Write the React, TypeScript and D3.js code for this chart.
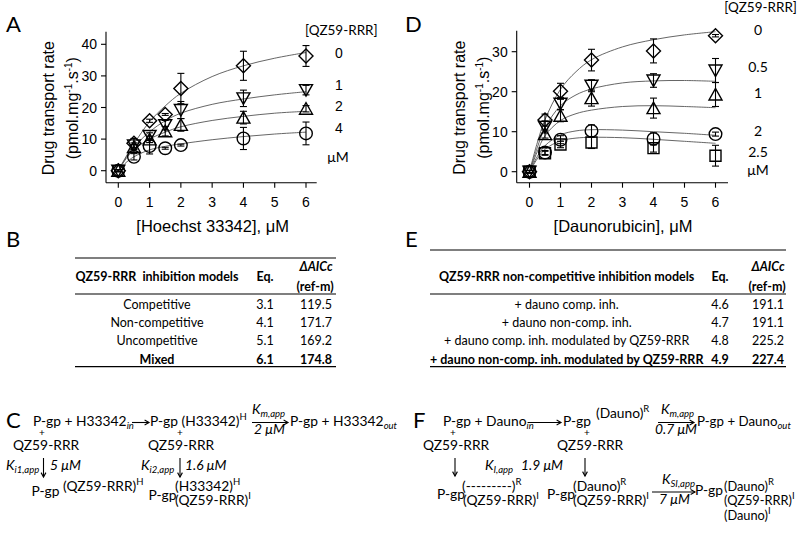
import React from "react";
import * as d3 from "d3";

// ---- panel A: Hoechst 33342 transport ----
const hoechstConc = [0, 0.5, 1, 1.5, 2, 4, 6];
const hoechstRate0 = [0, 8.7, 15.8, 17.8, 26, 33.2, 36.3];
const hoechstErr0 = [0.3, 1.5, 0.5, 0.3, 4.8, 4.6, 3.3];
const hoechstRate1 = [0, 8, 11, 14.4, 19.2, 22.9, 25.5];
const hoechstErr1 = [0.3, 0.8, 1, 1.5, 2.7, 2.6, 1.5];
const hoechstRate2 = [0, 7.5, 9.9, 12.5, 14.5, 16.8, 19.6];
const hoechstErr2 = [0.3, 0.8, 1, 1.5, 2, 2, 1];
const hoechstRate4 = [0, 4.4, 7.8, 7.1, 8.1, 10.2, 11.8];
const hoechstErr4 = [0.3, 1, 2.5, 0.3, 0.3, 3.5, 3.6];

// fitted curves at fitX
const fitX = [0, 0.25, 0.5, 1, 1.5, 2, 3, 4, 5, 6];
const hoechstFit0 = [0, 4.5, 8.5, 15.5, 20.5, 24.5, 29.8, 33.2, 35.6, 37.4];
const hoechstFit1 = [0, 4.2, 7.5, 12.3, 15.8, 18.2, 21, 22.7, 24, 25];
const hoechstFit2 = [0, 3.8, 6.6, 10, 12.2, 13.9, 15.9, 17.2, 18.2, 18.8];
const hoechstFit4 = [0, 2.6, 4.4, 6.6, 7.7, 8.5, 9.8, 10.8, 11.6, 12.2];
const hoechstLevels = ["0", "1", "2", "4"];

// ---- panel D: daunorubicin transport ----
const daunoConc = [0, 0.5, 1, 2, 4, 6];
const daunoRate0 = [0, 12.9, 20.1, 27.9, 30.2, 34];
const daunoErr0 = [0.3, 1.5, 2, 2.7, 3, 0.3];
const daunoRate05 = [0, 11.2, 17, 21.5, 22.8, 25.3];
const daunoErr05 = [0.3, 1.5, 1.5, 1.5, 1.7, 3];
const daunoRate1 = [0, 9.4, 14, 18.4, 15.9, 19.3];
const daunoErr1 = [0.3, 1, 1.5, 2, 2.5, 3];
const daunoRate2 = [0, 4.8, 8, 10.2, 8.2, 9.4];
const daunoErr2 = [0.3, 0.5, 1, 1.5, 1.5, 0.5];
const daunoRate25 = [0, 4.6, 6.8, 7.3, 5.9, 4];
const daunoErr25 = [0.3, 0.5, 0.8, 1.5, 1, 2.6];
const daunoFit0 = [0, 7.2, 13, 20.6, 25, 28, 31.2, 33, 34.2, 35];
const daunoFit05 = [0, 6, 11, 16.5, 19.2, 20.7, 22.2, 22.7, 22.8, 22.6];
const daunoFit1 = [0, 5, 9, 12.8, 14.5, 15.4, 16.3, 16.5, 16.3, 16];
const daunoFit2 = [0, 3.8, 6.5, 9.2, 10.2, 10.5, 10.4, 10, 9.6, 9.1];
const daunoFit25 = [0, 3.2, 5.6, 7.7, 8.4, 8.6, 8.5, 8.1, 7.6, 7.1];
const daunoLevels = ["0", "0.5", "1", "2", "2.5"];

const xTicks = [0, 1, 2, 3, 4, 5, 6];
const yTicksA = [0, 10, 20, 30, 40];
const yTicksD = [0, 10, 20, 30];

// ---- tables ----
const tableBModels = ["Competitive", "Non-competitive", "Uncompetitive", "Mixed"];
const tableBEq = ["3.1", "4.1", "5.1", "6.1"];
const tableBAicc = ["119.5", "171.7", "169.2", "174.8"];
const tableEModels = [
  "+ dauno comp. inh.",
  "+ dauno non-comp. inh.",
  "+ dauno comp. inh. modulated by QZ59-RRR",
  "+ dauno non-comp. inh. modulated by QZ59-RRR",
];
const tableEEq = ["4.6", "4.7", "4.8", "4.9"];
const tableEAicc = ["191.1", "191.1", "225.2", "227.4"];

const ARIAL = "'Liberation Sans', Arial, sans-serif";
const CAL = "Lato, 'Open Sans', sans-serif";

function Marker({ shape, cx, cy }) {
  const st = { fill: "none", stroke: "#000", strokeWidth: 1.4 };
  if (shape === "circle") return <circle cx={cx} cy={cy} r={6.3} {...st} />;
  let d = "";
  if (shape === "diamond") d = "M0,-7L7,0L0,7L-7,0Z";
  if (shape === "down") d = "M-6.5,-5.5L6.5,-5.5L0,6Z";
  if (shape === "up") d = "M-6.5,5.5L6.5,5.5L0,-6Z";
  if (shape === "square") d = "M-5.5,-5.5h11v11h-11Z";
  return <path d={d} transform={`translate(${cx},${cy})`} {...st} />;
}

function Kinetics({ lay, conc, series, yTicks, xLabel }) {
  const x = d3.scaleLinear().domain([0, 6]).range([lay.x0, lay.x6]);
  const y = d3.scaleLinear().domain([0, lay.yMax]).range([lay.y0, lay.yMaxPx]);
  const line = d3
    .line<number>()
    .x((_, i) => x(fitX[i]))
    .y((d) => y(d))
    .curve(d3.curveCatmullRom.alpha(0.5));
  const yMid = (lay.top + lay.bottom) / 2 + 1;
  return (
    <g>
      {series.map((s, k) => (
        <path key={"f" + k} d={line(s.fit)} fill="none" stroke="#555" strokeWidth={0.9} />
      ))}
      {series.map((s, k) =>
        s.rate.map((v, i) => {
          const cx = x(conc[i]);
          const y1 = y(v - s.err[i]);
          const y2 = y(v + s.err[i]);
          return (
            <g key={k + "-" + i}>
              <g stroke="#000" strokeWidth={1.1}>
                <line x1={cx} x2={cx} y1={y1} y2={y2} />
                <line x1={cx - 3.5} x2={cx + 3.5} y1={y1} y2={y1} />
                <line x1={cx - 3.5} x2={cx + 3.5} y1={y2} y2={y2} />
              </g>
              <Marker shape={s.shape} cx={cx} cy={y(v)} />
            </g>
          );
        })
      )}
      <g stroke="#000" strokeWidth={1.1}>
        <line x1={lay.left} x2={lay.left} y1={lay.top} y2={lay.bottom} />
        <line x1={lay.left} x2={lay.right} y1={lay.bottom} y2={lay.bottom} />
        {yTicks.map((t) => (
          <line key={t} x1={lay.left - 5} x2={lay.left} y1={y(t)} y2={y(t)} />
        ))}
        {xTicks.map((t) => (
          <line key={t} x1={x(t)} x2={x(t)} y1={lay.bottom} y2={lay.bottom + 5} />
        ))}
      </g>
      <g fontFamily={ARIAL} fontSize={14} fill="#000">
        {yTicks.map((t) => (
          <text key={t} x={lay.left - 9} y={y(t) + 5} textAnchor="end">{t}</text>
        ))}
        {xTicks.map((t) => (
          <text key={t} x={x(t)} y={lay.bottom + 24} textAnchor="middle">{t}</text>
        ))}
      </g>
      <g fontFamily={ARIAL} fontSize={16} fill="#000">
        <text x={(lay.x0 + lay.x6) / 2 + 0.5} y={lay.bottom + 49} textAnchor="middle" fontSize={16.5}>{xLabel}</text>
        <text transform={`translate(${lay.left - 52},${yMid}) rotate(-90)`} textAnchor="middle">
          Drug transport rate
        </text>
        <text transform={`translate(${lay.left - 28},${yMid}) rotate(-90)`} textAnchor="middle">
          (pmol.mg
          <tspan dy={-6} fontSize={10}>-1</tspan>
          <tspan dy={6}>.s</tspan>
          <tspan dy={-6} fontSize={10}>-1</tspan>
          <tspan dy={6}>)</tspan>
        </text>
      </g>
    </g>
  );
}

function Table({ left, right, top, colX, models, eqs, aiccs, header }) {
  const rowY = [309, 327.3, 345.3, 363.5];
  return (
    <g fontFamily={CAL} fontSize={12.5} fill="#000">
      <g stroke="#000" strokeWidth={1.2}>
        <line x1={left} x2={right} y1={top} y2={top} />
        <line x1={left} x2={right} y1={294} y2={294} />
        <line x1={left} x2={right} y1={366.7} y2={366.7} />
      </g>
      <text x={colX[0]} y={281} textAnchor="middle" fontWeight="bold" style={{ whiteSpace: "pre" }}>{header}</text>
      <text x={colX[1]} y={281} textAnchor="middle" fontWeight="bold">Eq.</text>
      <text x={colX[2]} y={271} textAnchor="middle" fontWeight="bold" fontStyle="italic">ΔAICc</text>
      <text x={colX[2] - 1} y={291} textAnchor="middle" fontWeight="bold">(ref-m)</text>
      {models.map((m, i) => {
        const bold = i === models.length - 1 ? "bold" : "normal";
        return (
          <g key={m} fontWeight={bold}>
            <text x={colX[0]} y={rowY[i]} textAnchor="middle">{m}</text>
            <text x={colX[1]} y={rowY[i]} textAnchor="middle">{eqs[i]}</text>
            <text x={colX[2]} y={rowY[i]} textAnchor="middle">{aiccs[i]}</text>
          </g>
        );
      })}
    </g>
  );
}

function Arrow({ x1, y1, x2, y2 }) {
  const a = Math.atan2(y2 - y1, x2 - x1);
  const h = 5;
  const p1 = [x2 - h * Math.cos(a - 0.5), y2 - h * Math.sin(a - 0.5)];
  const p2 = [x2 - h * Math.cos(a + 0.5), y2 - h * Math.sin(a + 0.5)];
  return (
    <g stroke="#000" strokeWidth={1.1} fill="none">
      <line x1={x1} y1={y1} x2={x2} y2={y2} />
      <path d={`M${p1[0]},${p1[1]}L${x2},${y2}L${p2[0]},${p2[1]}`} />
    </g>
  );
}

// sub/superscripts always end their text element, so no baseline reset is needed
const Sub = ({ children }) => (
  <tspan dy={3} fontSize={9.5} fontStyle="italic">{children}</tspan>
);
const Sup = ({ children }) => (
  <tspan dy={-6} fontSize={9.5}>{children}</tspan>
);

function SchemeC() {
  return (
    <g fontFamily={CAL} fontSize={13.8} fill="#000">
      <text x={6} y={428} fontSize={22}>C</text>
      <text x={33} y={426}>P-gp + H33342<Sub>in</Sub></text>
      <Arrow x1={132} y1={422.5} x2={149} y2={422.5} />
      <text x={150} y={426}>P-gp (H33342)<Sup>H</Sup></text>
      <text x={252} y={414} fontStyle="italic">K<Sub>m,app</Sub></text>
      <Arrow x1={252} y1={422.5} x2={288} y2={422.5} />
      <text x={254} y={434} fontStyle="italic">2 μM</text>
      <text x={290} y={426}>P-gp + H33342<Sub>out</Sub></text>
      <text x={42} y={436} fontSize={10} textAnchor="middle">+</text>
      <text x={13} y={450}>QZ59-RRR</text>
      <text x={180} y={436} fontSize={10} textAnchor="middle">+</text>
      <text x={148} y={450}>QZ59-RRR</text>
      <text x={6} y={470} fontStyle="italic">K<Sub>i1,app</Sub></text>
      <Arrow x1={43.5} y1={458} x2={43.5} y2={477} />
      <text x={50} y={470} fontStyle="italic">5 μM</text>
      <text x={141} y={470} fontStyle="italic">K<Sub>i2,app</Sub></text>
      <Arrow x1={180} y1={458} x2={180} y2={477} />
      <text x={185} y={470} fontStyle="italic">1.6 μM</text>
      <text x={31.5} y={496}>P-gp</text>
      <text x={63} y={491}>(QZ59-RRR)<Sup>H</Sup></text>
      <text x={148.5} y={500}>P-gp</text>
      <text x={175} y={491}>(H33342)<Sup>H</Sup></text>
      <text x={175} y={505}>(QZ59-RRR)<Sup>I</Sup></text>
    </g>
  );
}

function SchemeF() {
  return (
    <g fontFamily={CAL} fontSize={13.8} fill="#000">
      <text x={413} y={428} fontSize={22}>F</text>
      <text x={443} y={426}>P-gp + Dauno<Sub>in</Sub></text>
      <Arrow x1={528} y1={422.5} x2={561} y2={422.5} />
      <text x={563} y={426}>P-gp</text>
      <text x={596} y={418}>(Dauno)<Sup>R</Sup></text>
      <text x={661} y={414} fontStyle="italic">K<Sub>m,app</Sub></text>
      <Arrow x1={658} y1={422.5} x2={694} y2={422.5} />
      <text x={655} y={434} fontStyle="italic">0.7 μM</text>
      <text x={697} y={426} fontSize={13.3}>P-gp + Dauno<Sub>out</Sub></text>
      <text x={453} y={436} fontSize={10} textAnchor="middle">+</text>
      <text x={423} y={450}>QZ59-RRR</text>
      <text x={587} y={436} fontSize={10} textAnchor="middle">+</text>
      <text x={557} y={450}>QZ59-RRR</text>
      <Arrow x1={455} y1={458} x2={455} y2={476} />
      <text x={485} y={470} fontStyle="italic">K<Sub>I,app</Sub></text>
      <text x={521} y={470} fontStyle="italic">1.9 μM</text>
      <Arrow x1={585} y1={458} x2={585} y2={476} />
      <text x={437} y={499}>P-gp</text>
      <text x={462} y={491}>(---------)<Sup>R</Sup></text>
      <text x={463} y={505}>(QZ59-RRR)<Sup>I</Sup></text>
      <text x={547} y={499}>P-gp</text>
      <text x={573} y={491}>(Dauno)<Sup>R</Sup></text>
      <text x={573} y={505}>(QZ59-RRR)<Sup>I</Sup></text>
      <text x={662} y={484} fontStyle="italic">K<Sub>SI,app</Sub></text>
      <Arrow x1={652} y1={492} x2={695} y2={492} />
      <text x={659} y={504} fontStyle="italic">7 μM</text>
      <text x={695} y={495}>P-gp</text>
      <g fontSize={12.8}>
        <text x={724} y={491}>(Dauno)<Sup>R</Sup></text>
        <text x={724} y={505}>(QZ59-RRR)<Sup>I</Sup></text>
        <text x={724} y={520}>(Dauno)<Sup>I</Sup></text>
      </g>
    </g>
  );
}

export default function App() {
  const layA = { x0: 118.3, x6: 306, y0: 170.7, yMax: 40, yMaxPx: 44.3, left: 106, right: 316.7, top: 31.7, bottom: 182.7 };
  const layD = { x0: 529.5, x6: 715.5, y0: 171.7, yMax: 30, yMaxPx: 51.7, left: 516.7, right: 728, top: 30.7, bottom: 182.7 };

  const seriesA = [
    { rate: hoechstRate0, err: hoechstErr0, fit: hoechstFit0, shape: "diamond" },
    { rate: hoechstRate1, err: hoechstErr1, fit: hoechstFit1, shape: "down" },
    { rate: hoechstRate2, err: hoechstErr2, fit: hoechstFit2, shape: "up" },
    { rate: hoechstRate4, err: hoechstErr4, fit: hoechstFit4, shape: "circle" },
  ];
  const seriesD = [
    { rate: daunoRate0, err: daunoErr0, fit: daunoFit0, shape: "diamond" },
    { rate: daunoRate05, err: daunoErr05, fit: daunoFit05, shape: "down" },
    { rate: daunoRate1, err: daunoErr1, fit: daunoFit1, shape: "up" },
    { rate: daunoRate2, err: daunoErr2, fit: daunoFit2, shape: "circle" },
    { rate: daunoRate25, err: daunoErr25, fit: daunoFit25, shape: "square" },
  ];

  const legendAY = [58, 90, 111, 133];
  const legendDY = [35, 72, 98, 136, 157];

  return (
    <svg width={800} height={537} style={{ position: "absolute", left: 0, top: 0, background: "#fff" }}>
      <rect width={800} height={537} fill="#fff" />
      <g fontFamily={CAL} fontSize={22} fill="#000">
        <text x={6} y={32}>A</text>
        <text x={405} y={32}>D</text>
        <text x={6} y={247}>B</text>
        <text x={405} y={247}>E</text>
      </g>

      <Kinetics lay={layA} conc={hoechstConc} series={seriesA} yTicks={yTicksA} xLabel="[Hoechst 33342], μM" />
      <Kinetics lay={layD} conc={daunoConc} series={seriesD} yTicks={yTicksD} xLabel="[Daunorubicin], μM" />

      <g fill="#000">
        <text x={305} y={35} fontFamily={CAL} fontSize={13.5}>[QZ59-RRR]</text>
        {hoechstLevels.map((l, i) => (
          <text key={l} x={339} y={legendAY[i]} fontFamily={ARIAL} fontSize={14} textAnchor="middle">{l}</text>
        ))}
        <text x={338} y={162} fontFamily={CAL} fontSize={14} textAnchor="middle">μM</text>

        <text x={797} y={12} fontFamily={CAL} fontSize={13.5} textAnchor="end">[QZ59-RRR]</text>
        {daunoLevels.map((l, i) => (
          <text key={l} x={758} y={legendDY[i]} fontFamily={CAL} fontSize={14} textAnchor="middle">{l}</text>
        ))}
        <text x={758} y={175} fontFamily={CAL} fontSize={14} textAnchor="middle">μM</text>
      </g>

      <Table left={75} right={336} top={258} colX={[157, 265, 316]} models={tableBModels} eqs={tableBEq} aiccs={tableBAicc} header={"QZ59-RRR  inhibition models"} />
      <Table left={430} right={786} top={250} colX={[566.7, 720, 768]} models={tableEModels} eqs={tableEEq} aiccs={tableEAicc} header={"QZ59-RRR non-competitive inhibition models"} />

      <SchemeC />
      <SchemeF />
    </svg>
  );
}
